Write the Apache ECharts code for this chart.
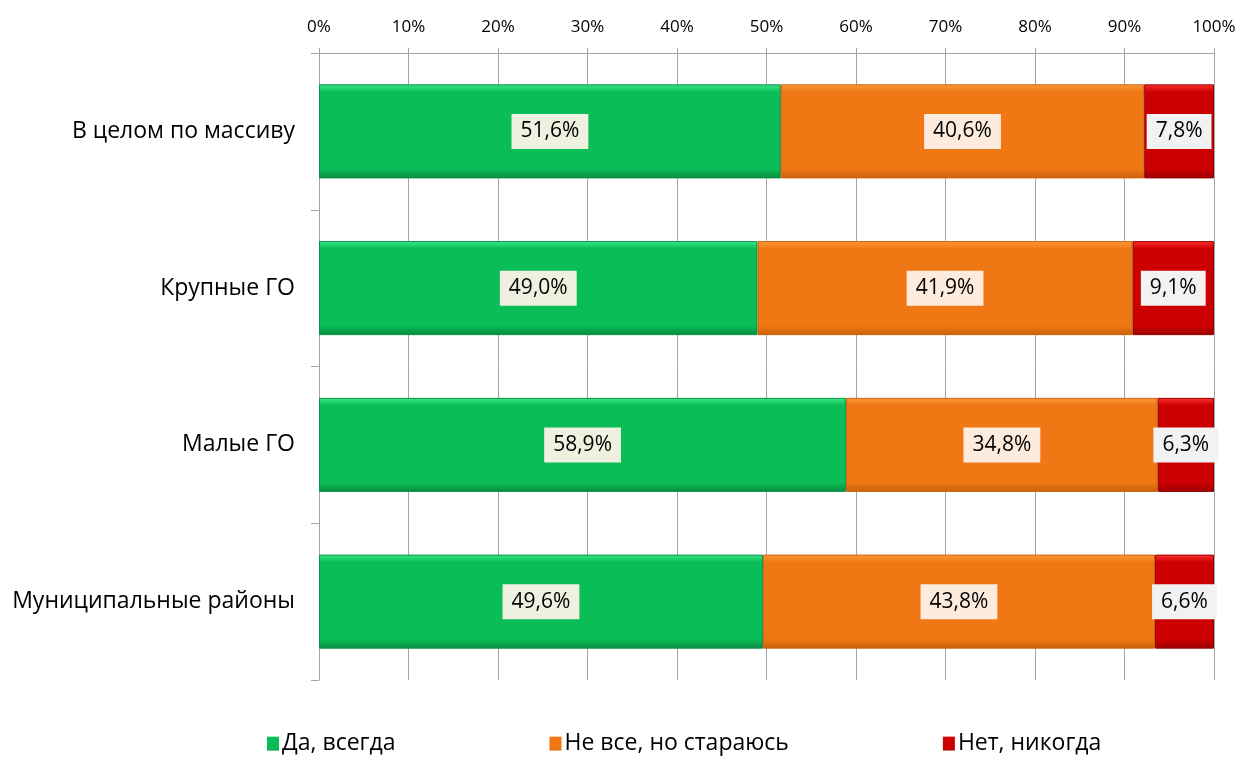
<!DOCTYPE html>
<html>
<head>
    <meta charset="utf-8">
    <script src="https://cdn.jsdelivr.net/npm/echarts@6/dist/echarts.min.js"></script>
    <style>
        html, body { margin: 0; padding: 0; background: #fff; }
        #chart { width: 1240px; height: 760px; }
    </style>
</head>
<body>
    <div id="chart"></div>
    <script>
        var categories = ['В целом по массиву', 'Крупные ГО', 'Малые ГО', 'Муниципальные районы'];
        var seriesNames = ['Да, всегда', 'Не все, но стараюсь', 'Нет, никогда'];
        var yesAlways = [51.6, 49.0, 58.9, 49.6];
        var notAll = [40.6, 41.9, 34.8, 43.8];
        var never = [7.8, 9.1, 6.3, 6.6];

        var font = '"Open Sans", "Noto Sans", sans-serif';

        function bevel(light, base, dark) {
            return new echarts.graphic.LinearGradient(0, 0, 0, 1, [
                { offset: 0, color: light },
                { offset: 0.08, color: base },
                { offset: 0.9, color: base },
                { offset: 1, color: dark }
            ]);
        }

        var styles = [
            { color: bevel('#3ee88a', '#0abd56', '#078a3e'), border: '#079245', legend: '#0abd56', labelBg: '#eef0e0' },
            { color: bevel('#ff9a3a', '#f07814', '#c8600c'), border: '#cc6410', legend: '#f07814', labelBg: '#fdebdd' },
            { color: bevel('#ff3030', '#cc0000', '#990000'), border: '#990000', legend: '#cc0000', labelBg: '#f2f2f2' }
        ];

        var values = [yesAlways, notAll, never];

        var chart = echarts.init(document.getElementById('chart'));

        var option = {
            animation: false,
            color: styles.map(function (s) { return s.legend; }),
            grid: {
                left: 319,
                right: 26,
                top: 53,
                bottom: 80
            },
            legend: {
                bottom: 0,
                left: 262,
                itemGap: 154,
                itemWidth: 12,
                itemHeight: 14,
                itemStyle: { borderWidth: 0 },
                icon: 'rect',
                textStyle: { fontFamily: font, fontSize: 23, color: '#000', padding: [0, 0, 0, -2] },
                data: seriesNames
            },
            xAxis: {
                type: 'value',
                position: 'top',
                min: 0,
                max: 100,
                interval: 10,
                axisLine: { show: true, lineStyle: { color: '#a6a6a6' } },
                axisTick: { show: true, inside: false, length: 5, lineStyle: { color: '#a6a6a6' } },
                splitLine: { show: true, lineStyle: { color: '#a6a6a6' } },
                axisLabel: {
                    fontFamily: font,
                    fontSize: 17,
                    color: '#000',
                    margin: 17,
                    formatter: '{value}%'
                }
            },
            yAxis: {
                type: 'category',
                inverse: true,
                data: categories,
                axisLine: { show: true, lineStyle: { color: '#a6a6a6' } },
                axisTick: { show: true, length: 8, lineStyle: { color: '#a6a6a6' } },
                axisLabel: {
                    fontFamily: font,
                    fontSize: 23,
                    color: '#000',
                    margin: 24
                }
            },
            series: seriesNames.map(function (name, i) {
                return {
                    name: name,
                    type: 'bar',
                    stack: 'total',
                    barWidth: '60%',
                    data: values[i],
                    itemStyle: {
                        color: styles[i].color,
                        borderColor: styles[i].border,
                        borderWidth: 1
                    },
                    label: {
                        show: true,
                        position: 'inside',
                        fontFamily: font,
                        fontSize: 21,
                        color: '#000',
                        backgroundColor: styles[i].labelBg,
                        padding: [8, 9, 6, 9],
                        formatter: function (p) {
                            return p.value.toFixed(1).replace('.', ',') + '%';
                        }
                    }
                };
            })
        };

        chart.setOption(option);
    </script>
</body>
</html>
